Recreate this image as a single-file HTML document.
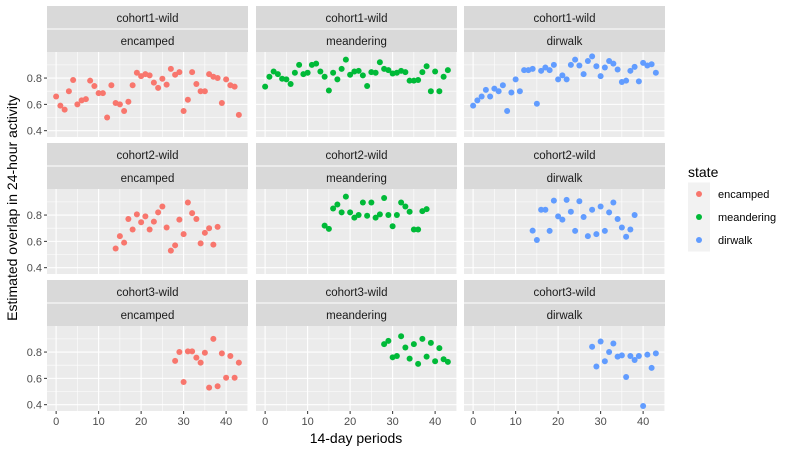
<!DOCTYPE html>
<html><head><meta charset="utf-8"><style>
body{margin:0;background:#fff;}
svg{display:block;font-family:"Liberation Sans",Arial,sans-serif;}
</style></head><body>
<svg id="chart" width="794" height="452" viewBox="0 0 794 452"></svg>
<script>
const cohorts = ["cohort1-wild","cohort2-wild","cohort3-wild"];
const states = ["encamped","meandering","dirwalk"];
const colors = ["#F8766D","#00BA38","#619CFF"];
const xTicks = [0,10,20,30,40];
const yTicks = [0.4,0.6,0.8];
const yTickLabels = ["0.4","0.6","0.8"];
// cohort1
const c1EncX = [0,1,2,3,4,5,6,7,8,9,10,11,12,13,14,15,16,17,18,19,20,21,22,23,24,25,26,27,28,29,30,31,32,33,34,35,36,37,38,39,40,41,42,43];
const c1EncY = [0.66,0.59,0.56,0.70,0.785,0.60,0.63,0.64,0.78,0.74,0.685,0.685,0.50,0.745,0.61,0.60,0.55,0.62,0.745,0.84,0.815,0.83,0.82,0.765,0.725,0.795,0.75,0.87,0.825,0.845,0.55,0.635,0.845,0.755,0.70,0.70,0.83,0.81,0.80,0.61,0.79,0.745,0.735,0.52];
const c1MeaX = [0,1,2,3,4,5,6,7,8,9,10,11,12,13,14,15,16,17,18,19,20,21,22,23,24,25,26,27,28,29,30,31,32,33,34,35,36,37,38,39,40,41,42,43];
const c1MeaY = [0.735,0.81,0.85,0.83,0.795,0.79,0.755,0.84,0.90,0.83,0.84,0.90,0.91,0.85,0.81,0.705,0.84,0.79,0.87,0.94,0.825,0.85,0.855,0.82,0.74,0.845,0.84,0.92,0.87,0.86,0.835,0.84,0.855,0.845,0.78,0.78,0.785,0.845,0.89,0.70,0.85,0.70,0.81,0.86];
const c1DirX = [0,1,2,3,4,5,6,7,8,9,10,11,12,13,14,15,16,17,18,19,20,21,22,23,24,25,26,27,28,29,30,31,32,33,34,35,36,37,38,39,40,41,42,43];
const c1DirY = [0.59,0.63,0.66,0.71,0.66,0.72,0.70,0.745,0.55,0.69,0.79,0.70,0.86,0.86,0.87,0.605,0.855,0.88,0.86,0.90,0.79,0.82,0.79,0.90,0.94,0.895,0.83,0.93,0.965,0.89,0.815,0.88,0.93,0.91,0.865,0.77,0.78,0.855,0.885,0.775,0.915,0.895,0.905,0.84];
// cohort2
const c2EncX = [14,15,16,17,18,19,20,21,22,23,24,25,26,27,28,29,30,31,32,33,34,35,36,37,38];
const c2EncY = [0.546,0.64,0.59,0.77,0.69,0.805,0.745,0.79,0.69,0.75,0.82,0.865,0.705,0.53,0.57,0.765,0.655,0.895,0.815,0.77,0.585,0.665,0.70,0.575,0.71];
const c2MeaX = [14,15,16,17,18,19,20,21,22,23,24,25,26,27,28,29,30,31,32,33,34,35,36,37,38];
const c2MeaY = [0.72,0.695,0.85,0.88,0.82,0.94,0.82,0.78,0.80,0.895,0.795,0.895,0.78,0.805,0.93,0.80,0.715,0.80,0.895,0.865,0.825,0.69,0.69,0.83,0.845];
const c2DirX = [14,15,16,17,18,19,20,21,22,23,24,25,26,27,28,29,30,31,32,33,34,35,36,37,38];
const c2DirY = [0.682,0.61,0.84,0.84,0.68,0.91,0.79,0.765,0.915,0.825,0.68,0.905,0.785,0.64,0.84,0.655,0.865,0.68,0.82,0.895,0.77,0.705,0.635,0.69,0.80];
// cohort3
const c3EncX = [28,29,30,31,32,33,34,35,36,37,38,39,40,41,42,43];
const c3EncY = [0.733,0.80,0.572,0.805,0.805,0.758,0.72,0.795,0.53,0.90,0.54,0.79,0.605,0.77,0.605,0.72];
const c3MeaX = [28,29,30,31,32,33,34,35,36,37,38,39,40,41,42,43];
const c3MeaY = [0.86,0.885,0.76,0.77,0.92,0.835,0.75,0.86,0.71,0.90,0.765,0.87,0.73,0.83,0.745,0.725];
const c3DirX = [28,29,30,31,32,33,34,35,36,37,38,39,40,41,42,43];
const c3DirY = [0.84,0.69,0.88,0.73,0.80,0.865,0.765,0.775,0.61,0.77,0.74,0.77,0.39,0.78,0.68,0.79];

const panelData = [
  [[c1EncX,c1EncY],[c1MeaX,c1MeaY],[c1DirX,c1DirY]],
  [[c2EncX,c2EncY],[c2MeaX,c2MeaY],[c2DirX,c2DirY]],
  [[c3EncX,c3EncY],[c3MeaX,c3MeaY],[c3DirX,c3DirY]]
];

const NS="http://www.w3.org/2000/svg";
const svg=document.getElementById('chart');
function mk(tag,attrs,parent){const e=document.createElementNS(NS,tag);for(const k in attrs)e.setAttribute(k,attrs[k]);(parent||svg).appendChild(e);return e;}

const colX=[47,256,464], panelW=201, rowTop=[6,143,280], stripH=23, plotH=85;
const xMin=-2.15, xMax=45.15, yMin=0.352, yMax=0.998;
function sx(c,v){return colX[c]+(v-xMin)/(xMax-xMin)*panelW;}
function sy(r,v){const top=rowTop[r]+2*stripH;return top+(yMax-v)/(yMax-yMin)*plotH;}

for(let r=0;r<3;r++){
  for(let c=0;c<3;c++){
    const g=mk('g',{});
    
    
    const s1=mk('rect',{x:colX[c],y:rowTop[r],width:panelW,height:stripH,fill:'#D9D9D9'},g);
    
    
    const s2=mk('rect',{x:colX[c],y:rowTop[r]+stripH,width:panelW,height:stripH,fill:'#D9D9D9'},g);
    
    
    mk('line',{x1:colX[c],x2:colX[c]+panelW,y1:rowTop[r]+stripH,y2:rowTop[r]+stripH,stroke:'#fff','stroke-width':1},g);
    const t1=mk('text',{x:colX[c]+panelW/2,y:rowTop[r]+16,'text-anchor':'middle','font-size':'11.5',fill:'#1A1A1A'},g);
    t1.textContent=cohorts[r];
    
    
    const t2=mk('text',{x:colX[c]+panelW/2,y:rowTop[r]+stripH+16,'text-anchor':'middle','font-size':'11.5',fill:'#1A1A1A'},g);
    t2.textContent=states[c];
    
    
    const top=rowTop[r]+2*stripH;
    const bg=mk('rect',{x:colX[c],y:top,width:panelW,height:plotH,fill:'#EBEBEB'},g);
    
    
    // minor grid
    [0.5,0.7,0.9].forEach(v=>mk('line',{x1:colX[c],x2:colX[c]+panelW,y1:sy(r,v),y2:sy(r,v),stroke:'#fff','stroke-width':0.55},g));
    [5,15,25,35,45].forEach(v=>{if(v<=xMax)mk('line',{x1:sx(c,v),x2:sx(c,v),y1:top,y2:top+plotH,stroke:'#fff','stroke-width':0.55},g);});
    yTicks.forEach(v=>mk('line',{x1:colX[c],x2:colX[c]+panelW,y1:sy(r,v),y2:sy(r,v),stroke:'#fff','stroke-width':1.1},g));
    xTicks.forEach(v=>mk('line',{x1:sx(c,v),x2:sx(c,v),y1:top,y2:top+plotH,stroke:'#fff','stroke-width':1.1},g));
    const [xs,ys]=panelData[r][c];
    for(let i=0;i<xs.length;i++){
      const p=mk('circle',{cx:sx(c,xs[i]),cy:sy(r,ys[i]),r:3,fill:colors[c]},g);
      
      
    }
    if(c===0){
      yTicks.forEach((v,i)=>{
        mk('line',{x1:colX[0]-3,x2:colX[0],y1:sy(r,v),y2:sy(r,v),stroke:'#333','stroke-width':1},g);
        const t=mk('text',{x:colX[0]-5,y:sy(r,v)+4,'text-anchor':'end','font-size':'11',fill:'#4D4D4D'},g);
        t.textContent=yTickLabels[i];
        
        
      });
    }
    if(r===2){
      xTicks.forEach(v=>{
        mk('line',{x1:sx(c,v),x2:sx(c,v),y1:top+plotH,y2:top+plotH+3,stroke:'#333','stroke-width':1},g);
        const t=mk('text',{x:sx(c,v),y:top+plotH+14,'text-anchor':'middle','font-size':'11',fill:'#4D4D4D'},g);
        t.textContent=String(v);
        
        
      });
    }
  }
}
const xt=mk('text',{x:356,y:443,'text-anchor':'middle','font-size':'14',fill:'#000'});
xt.textContent='14-day periods';


const yt=mk('text',{x:0,y:0,'text-anchor':'middle','font-size':'14',fill:'#000',transform:'translate(17,208) rotate(-90)'});
yt.textContent='Estimated overlap in 24-hour activity';


// legend
const lg=mk('g',{});


const lt=mk('text',{x:688,y:177,'font-size':'14',fill:'#000'},lg);
lt.textContent='state';


states.forEach((s,i)=>{
  const cy=194+i*23;
  const e=mk('g',{},lg);
  
  
  mk('rect',{x:688,y:cy-11.5,width:22,height:23,fill:'#F2F2F2'},e);
  mk('circle',{cx:699,cy:cy,r:3,fill:colors[i]},e);
  const t=mk('text',{x:718,y:cy+4,'font-size':'11',fill:'#000'},e);
  t.textContent=s;
});
</script>
</body></html>
